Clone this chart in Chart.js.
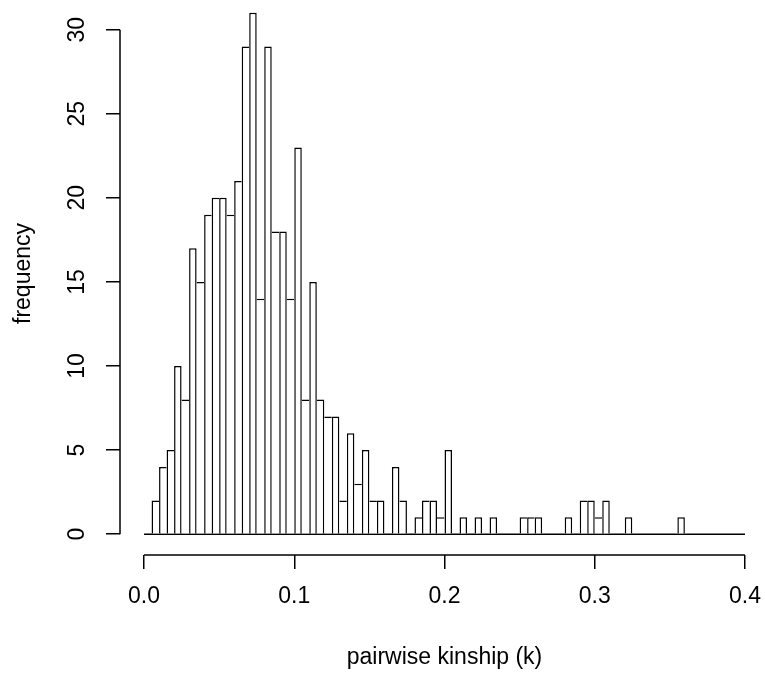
<!DOCTYPE html>
<html>
<head>
<meta charset="utf-8">
<script src="https://cdn.jsdelivr.net/npm/chart.js@4/dist/chart.umd.min.js"></script>
<style>
html,body{margin:0;padding:0;background:#fff;overflow:hidden;width:765px;height:674px;}
#wrap{position:absolute;left:0;top:-8px;}
canvas{display:block;}
</style>
</head>
<body>
<div id="wrap"><canvas id="c" width="769" height="682"></canvas></div>
<script>
// Histogram bin edges (pairwise kinship)
const breaks = [0.000,0.005,0.010,0.015,0.020,0.025,0.030,0.035,0.040,0.045,
                0.050,0.055,0.060,0.065,0.070,0.075,0.080,0.085,0.090,0.095,
                0.100,0.105,0.110,0.115,0.120,0.125,0.130,0.135,0.140,0.145,
                0.150,0.155,0.160,0.165,0.170,0.175,0.180,0.185,0.190,0.195,
                0.200,0.205,0.210,0.215,0.220,0.225,0.230,0.235,0.240,0.245,
                0.250,0.255,0.260,0.265,0.270,0.275,0.280,0.285,0.290,0.295,
                0.300,0.305,0.310,0.315,0.320,0.325,0.330,0.335,0.340,0.345,
                0.350,0.355,0.360,0.365,0.370,0.375,0.380,0.385,0.390,0.395,0.400];
// Frequency per bin
const counts = [0,2,4,5,10,8,17,15,19,20,
                20,19,21,29,31,14,29,18,18,14,
                23,8,15,8,7,7,2,6,3,5,
                2,2,0,4,2,0,1,2,2,1,
                5,0,1,0,1,0,1,0,0,0,
                1,1,1,0,0,0,1,0,2,2,
                1,2,0,0,1,0,0,0,0,0,
                0,1,0,0,0,0,0,0,0,0];
const xTickValues = [0, 0.1, 0.2, 0.3, 0.4];
const xTickLabels = ['0.0', '0.1', '0.2', '0.3', '0.4'];
const yTickValues = [0, 5, 10, 15, 20, 25, 30];
const yTickLabels = ['0', '5', '10', '15', '20', '25', '30'];
const xTitle = 'pairwise kinship (k)';
const yTitle = 'frequency';

const barData = counts.map((c, i) => ({x: (breaks[i] + breaks[i + 1]) / 2, y: c}));
const xLo = breaks[0], xHi = breaks[breaks.length - 1];
const yHi = Math.max(...counts);
const xPad = (xHi - xLo) * 0.04, yPad = yHi * 0.04;

Chart.defaults.font.family = '"Liberation Sans", Arial, sans-serif';
Chart.defaults.font.size = 23;
Chart.defaults.color = '#000';

const txt = '#000';
const lw = 1.5;
const noPad = (s) => { s.paddingTop = 0; s.paddingBottom = 0; s.paddingLeft = 0; s.paddingRight = 0; };

new Chart(document.getElementById('c'), {
  type: 'bar',
  data: {
    datasets: [
      {
        type: 'bar',
        data: barData,
        backgroundColor: '#ffffff',
        borderColor: '#000000',
        inflateAmount: 0,
        borderSkipped: false,
        barPercentage: 1,
        categoryPercentage: 1,
        borderWidth: (ctx) => {
          const i = ctx.dataIndex;
          if (i === undefined) return lw;
          const v = counts[i];
          const prev = i > 0 ? counts[i - 1] : 0;
          const next = i < counts.length - 1 ? counts[i + 1] : 0;
          return {top: lw, bottom: 0, left: v >= prev ? lw : 0, right: v > next ? lw : 0};
        }
      },
      { // zero line under the bins
        type: 'line',
        data: [{x: xLo, y: 0}, {x: xHi, y: 0}],
        borderColor: '#000', borderWidth: lw, pointRadius: 0, fill: false, clip: false
      },
      { // x axis line (from first to last tick)
        type: 'line',
        data: [{x: xTickValues[0], y: -yPad}, {x: xTickValues[xTickValues.length - 1], y: -yPad}],
        borderColor: '#000', borderWidth: lw, pointRadius: 0, fill: false, clip: false
      },
      { // y axis line (from first to last tick)
        type: 'line',
        data: [{x: xLo - xPad, y: yTickValues[0]}, {x: xLo - xPad, y: yTickValues[yTickValues.length - 1]}],
        borderColor: '#000', borderWidth: lw, pointRadius: 0, fill: false, clip: false
      }
    ]
  },
  options: {
    responsive: false,
    animation: false,
    events: [],
    layout: {padding: 0, autoPadding: false},
    plugins: {legend: {display: false}, tooltip: {enabled: false}},
    scales: {
      x: {
        type: 'linear',
        min: xLo - xPad,
        max: xHi + xPad,
        offset: false,
        border: {display: false},
        grid: {display: true, offset: false, drawOnChartArea: false, drawTicks: true, tickLength: 14, color: '#000', lineWidth: lw},
        afterBuildTicks: (s) => { s.ticks = xTickValues.map(v => ({value: v})); },
        afterFit: (s) => { s.height = 119; noPad(s); },
        ticks: {
          padding: 14, color: txt, maxRotation: 0, autoSkip: false,
          font: {size: 23},
          callback: (v, i) => xTickLabels[i]
        },
        title: {display: true, text: xTitle, color: txt, font: {size: 23}, padding: {top: 0, bottom: 3}}
      },
      y: {
        type: 'linear',
        min: -yPad,
        max: yHi + yPad,
        border: {display: false},
        grid: {display: true, drawOnChartArea: false, drawTicks: true, tickLength: 14, color: '#000', lineWidth: lw},
        afterBuildTicks: (s) => { s.ticks = yTickValues.map(v => ({value: v})); },
        afterFit: (s) => { s.width = 120; noPad(s); },
        ticks: {
          padding: 16, color: txt, minRotation: 90, maxRotation: 90, crossAlign: 'center', autoSkip: false,
          font: {size: 23},
          callback: (v, i) => yTickLabels[i]
        },
        title: {display: true, text: yTitle, color: txt, font: {size: 23}, padding: {top: 10, bottom: 0}}
      }
    }
  }
});
</script>
</body>
</html>
